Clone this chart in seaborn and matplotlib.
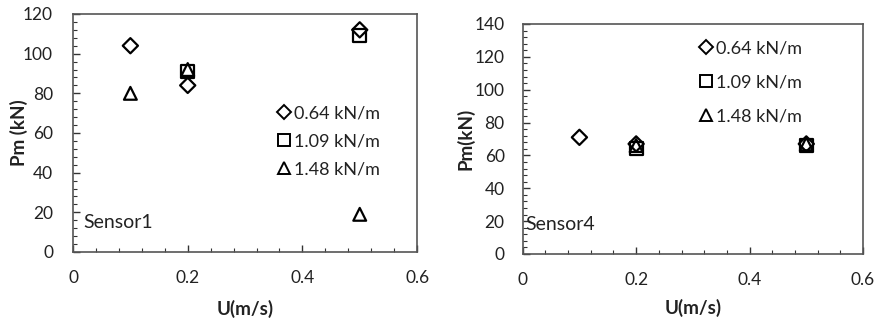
import matplotlib
matplotlib.use("Agg")
import matplotlib.pyplot as plt
from matplotlib.ticker import MultipleLocator
from matplotlib.lines import Line2D
import seaborn as sns
import pandas as pd

sns.set_theme(style="white")
plt.rcParams["font.family"] = ["Lato", "DejaVu Sans"]

# Flow velocity U (m/s) for each tested stiffness
series_labels = ["0.64 kN/m", "1.09 kN/m", "1.48 kN/m"]
series_markers = ["D", "s", "^"]

# Sensor1 peak force Pm (kN)
s1_u_064 = [0.1, 0.2, 0.5]
s1_pm_064 = [104, 84, 112]
s1_u_109 = [0.2, 0.5]
s1_pm_109 = [91, 109]
s1_u_148 = [0.1, 0.2, 0.5]
s1_pm_148 = [80, 92, 19]

# Sensor4 peak force Pm (kN)
s4_u_064 = [0.1, 0.2, 0.5]
s4_pm_064 = [71, 67, 67]
s4_u_109 = [0.2, 0.5]
s4_pm_109 = [64, 66]
s4_u_148 = [0.2, 0.5]
s4_pm_148 = [66, 67]


def frame(us, pms):
    rows = []
    for lab, u, p in zip(series_labels, us, pms):
        for ui, pi in zip(u, p):
            rows.append({"U": ui, "Pm": pi, "k": lab})
    return pd.DataFrame(rows)


df1 = frame([s1_u_064, s1_u_109, s1_u_148], [s1_pm_064, s1_pm_109, s1_pm_148])
df4 = frame([s4_u_064, s4_u_109, s4_u_148], [s4_pm_064, s4_pm_109, s4_pm_148])

fig = plt.figure(figsize=(8.81, 3.2), dpi=100)
ax1 = fig.add_axes([0.0829, 0.2125, 0.3905, 0.7438])
ax4 = fig.add_axes([0.5933, 0.2063, 0.3863, 0.7188])

marker_map = dict(zip(series_labels, series_markers))
size_map = {"D": 60, "s": 85, "^": 85}


def draw(ax, df, ymax, ylabel, sensor, sensor_xy, leg_loc, leg_spacing, ypad):
    for lab in series_labels:
        sub = df[df["k"] == lab]
        m = marker_map[lab]
        sns.scatterplot(data=sub, x="U", y="Pm", ax=ax, marker=m,
                        s=size_map[m], facecolors="none",
                        edgecolors="black", linewidths=1.6, legend=False)
    ax.set_xlim(0, 0.6)
    ax.set_ylim(0, ymax)
    ax.xaxis.set_major_locator(MultipleLocator(0.2))
    ax.xaxis.set_minor_locator(MultipleLocator(0.04))
    ax.yaxis.set_major_locator(MultipleLocator(20))
    ax.yaxis.set_minor_locator(MultipleLocator(4))
    ax.set_xticks([0, 0.2, 0.4, 0.6])
    ax.set_xticklabels(["0", "0.2", "0.4", "0.6"])
    ax.tick_params(axis="both", which="both", bottom=True, left=True,
                   top=False, right=False)
    ax.tick_params(axis="both", which="major", direction="in", length=5,
                   width=1, color="#333333", labelsize=12.5, labelcolor="#222222")
    ax.tick_params(axis="both", which="minor", direction="in", length=3,
                   width=0.8, color="#333333")
    ax.tick_params(axis="x", which="major", pad=13)
    ax.tick_params(axis="y", which="major", pad=ypad)
    for sp in ax.spines.values():
        sp.set_color("#555555")
        sp.set_linewidth(1.2)
    ax.set_xlabel("U(m/s)", fontsize=13.5, fontweight="bold", color="#222222")
    ax.set_ylabel(ylabel, fontsize=13.5, fontweight="bold", color="#222222")
    ax.text(sensor_xy[0], sensor_xy[1], sensor, fontsize=14, color="#222222",
            va="center", ha="left")
    handles = [Line2D([], [], marker=marker_map[l], linestyle="none",
                      markerfacecolor="none", markeredgecolor="black",
                      markeredgewidth=1.4, markersize=8.5 if marker_map[l] != "D" else 7.5)
               for l in series_labels]
    leg = ax.legend(handles, series_labels, loc="upper left",
                    bbox_to_anchor=leg_loc, frameon=False, fontsize=13,
                    handlelength=0.7, handletextpad=0.2,
                    labelspacing=leg_spacing, borderaxespad=0)
    for t in leg.get_texts():
        t.set_color("#222222")


draw(ax1, df1, 120, "Pm (kN)", "Sensor1", (0.018, 15), (0.575, 0.645), 0.65, 14.4)
draw(ax4, df4, 140, "Pm(kN)", "Sensor4", (0.005, 18), (0.5, 0.96), 1.0, 13)

ax1.xaxis.set_label_coords(0.5, -0.2)
ax4.xaxis.set_label_coords(0.5, -0.196)
ax1.yaxis.set_label_coords(-0.13, 0.5)
ax4.yaxis.set_label_coords(-0.143, 0.5)

fig.savefig("out.png", dpi=100)
